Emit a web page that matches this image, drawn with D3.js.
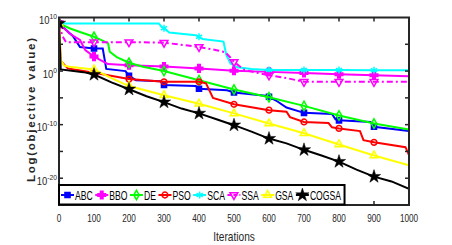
<!DOCTYPE html>
<html>
<head>
<meta charset="utf-8">
<script src="https://cdn.jsdelivr.net/npm/d3@7"></script>
<style>
  body { margin: 0; background: #fff; }
  text { font-family: "Liberation Sans", Arial, sans-serif; }
</style>
</head>
<body>
<div id="chart"></div>
<script>
// ***** data (log10 of objective value) *****
var abcIter = [0, 40, 60, 100, 125, 135, 190, 200, 220, 290, 300, 390, 400, 480, 500, 590, 600, 620, 650, 700, 780, 790, 800, 890, 900, 1000];
var abcLog  = [8.9, 6.5, 4.5, 4.2, 4.2, 0.4, 0.0, -0.9, -1.7, -1.9, -2.6, -2.8, -3.3, -3.6, -4.0, -4.6, -4.8, -5.5, -6.8, -7.8, -8.0, -9.0, -9.2, -9.5, -10.4, -11.2];

var bboIter = [0, 30, 60, 75, 100, 120, 140, 200, 300, 400, 500, 600, 700, 800, 900, 1000];
var bboLog  = [8.9, 7.0, 5.8, 3.9, 2.7, 2.0, 1.3, 1.1, 0.85, 0.5, 0.05, -0.15, -0.35, -0.6, -0.8, -0.95];

var deIter = [0, 30, 60, 100, 140, 145, 165, 200, 240, 300, 400, 500, 600, 700, 800, 900, 1000];
var deLog  = [8.9, 8.0, 7.3, 6.4, 5.2, 3.6, 2.6, 1.55, 0.8, 0.0, -1.7, -3.45, -4.9, -6.5, -8.3, -9.8, -10.9];

var psoIter = [0, 5, 25, 100, 200, 300, 400, 420, 440, 500, 600, 650, 660, 700, 770, 780, 800, 860, 870, 900, 990, 1000];
var psoLog  = [8.9, 1.9, 0.5, -0.3, -1.5, -2.0, -2.0, -2.3, -5.0, -6.2, -7.3, -7.6, -8.6, -9.5, -9.7, -10.5, -10.7, -11.2, -12.9, -13.3, -14.2, -15.7];

var scaIter = [0, 285, 295, 300, 315, 390, 400, 410, 470, 478, 490, 510, 550, 600, 700, 800, 900, 1000];
var scaLog  = [8.9, 8.9, 8.1, 8.0, 7.2, 6.7, 6.4, 6.0, 5.5, 3.0, 1.4, 0.7, 0.4, 0.2, 0.2, 0.2, 0.15, 0.15];

var ssaIter = [0, 10, 20, 100, 200, 300, 400, 450, 475, 490, 500, 530, 600, 650, 700, 800, 900, 1000];
var ssaLog  = [8.9, 6.5, 5.4, 5.4, 5.4, 5.3, 4.5, 3.9, 3.5, 2.5, 1.7, 0.2, -0.8, -1.3, -2.0, -2.0, -2.0, -2.0];

var gsaIter = [0, 5, 15, 30, 100, 150, 200, 300, 400, 500, 600, 700, 800, 900, 1000];
var gsaLog  = [8.9, 2.0, 1.0, 0.8, 0.3, -1.3, -2.8, -4.5, -6.1, -7.9, -9.8, -11.6, -13.7, -15.75, -17.6];

var cogsaIter = [0, 5, 70, 100, 150, 200, 250, 300, 350, 400, 450, 500, 550, 600, 650, 700, 750, 800, 850, 900, 950, 1000];
var cogsaLog  = [8.9, 0.3, -0.2, -0.65, -2.1, -3.4, -4.7, -5.8, -7.0, -7.9, -9.0, -10.1, -11.3, -12.6, -13.5, -14.7, -15.75, -16.9, -18.4, -19.7, -20.6, -22.0];

var xTicks = [0, 100, 200, 300, 400, 500, 600, 700, 800, 900, 1000];
var yLabelExps = [10, 0, -10, -20];

// series table built from the arrays above
var series = [
  {name: "ABC",   iter: abcIter,   lg: abcLog,   color: "#0000ff", marker: "square"},
  {name: "BBO",   iter: bboIter,   lg: bboLog,   color: "#ff00ff", marker: "plus"},
  {name: "DE",    iter: deIter,    lg: deLog,    color: "#00ff00", marker: "diamond"},
  {name: "PSO",   iter: psoIter,   lg: psoLog,   color: "#ff0000", marker: "circle"},
  {name: "SCA",   iter: scaIter,   lg: scaLog,   color: "#00ffff", marker: "asterisk"},
  {name: "SSA",   iter: ssaIter,   lg: ssaLog,   color: "#ff00ff", marker: "tridown", dash: "6,3,2,3"},
  {name: "GSA",   iter: gsaIter,   lg: gsaLog,   color: "#ffff00", marker: "triup"},
  {name: "COGSA", iter: cogsaIter, lg: cogsaLog, color: "#000000", marker: "star"}
];

// set the dimensions of the plot box
var W = 452, H = 245;
var pLeft = 59, pRight = 409, pTop = 17.5, pBottom = 205;
var squeeze = 0.78;  // the figure's text is horizontally narrow

var svg = d3.select("#chart")
  .append("svg")
    .attr("width", W)
    .attr("height", H);

var x = d3.scaleLinear().domain([0, 1000]).range([pLeft, pRight]);
var y = d3.scaleLog().domain([1e-25, 1e10]).range([pBottom, pTop]);

svg.append("defs").append("clipPath").attr("id", "clip")
  .append("rect")
    .attr("x", pLeft).attr("y", pTop)
    .attr("width", pRight - pLeft).attr("height", pBottom - pTop);

var line = d3.line()
  .x(function(d) { return x(d[0]); })
  .y(function(d) { return y(Math.pow(10, d[1])); });

function symbolPath(kind, size) {
  var map = {
    square: d3.symbolSquare, plus: d3.symbolCross, diamond: d3.symbolDiamond,
    circle: d3.symbolCircle, asterisk: d3.symbolAsterisk, triup: d3.symbolTriangle,
    tridown: d3.symbolTriangle, star: d3.symbolStar
  };
  return d3.symbol().type(map[kind]).size(size)();
}
function markerSize(kind) {
  if (kind == "star") return 55;
  if (kind == "asterisk") return 35;
  if (kind == "plus") return 32;
  return 26;
}
function styleMarker(sel, s) {
  var filled = (s.marker == "star" || s.marker == "plus" || s.marker == "square");
  sel.attr("d", symbolPath(s.marker, markerSize(s.marker)))
    .attr("fill", filled ? s.color : "none")
    .attr("stroke", s.color)
    .attr("stroke-width", s.marker == "star" ? 0.5 : 1.5);
}

var plot = svg.append("g").attr("clip-path", "url(#clip)");

series.forEach(function(s) {
  var pts = s.iter.map(function(it, i) { return [it, s.lg[i]]; });
  plot.append("path")
    .datum(pts)
    .attr("d", line)
    .attr("fill", "none")
    .attr("stroke", s.color)
    .attr("stroke-width", 2)
    .attr("stroke-dasharray", s.dash || null);

  // markers every 100 iterations
  var mk = pts.filter(function(d) { return d[0] % 100 == 0 && d[0] < 1000; });
  plot.selectAll("mk" + s.name)
    .data(mk)
    .enter()
    .append("path")
      .call(styleMarker, s)
      .attr("transform", function(d) {
        return "translate(" + x(d[0]) + "," + y(Math.pow(10, d[1])) + ")" + (s.marker == "tridown" ? " rotate(180)" : "");
      });
});

// frame and ticks
var frame = "#262626";
svg.append("rect")
  .attr("x", pLeft).attr("y", pTop)
  .attr("width", pRight - pLeft).attr("height", pBottom - pTop)
  .attr("fill", "none").attr("stroke", frame).attr("stroke-width", 2);

xTicks.slice(1, -1).forEach(function(t) {
  svg.append("line").attr("x1", x(t)).attr("x2", x(t)).attr("y1", pTop).attr("y2", pTop + 4)
    .attr("stroke", frame).attr("stroke-width", 1.5);
  svg.append("line").attr("x1", x(t)).attr("x2", x(t)).attr("y1", pBottom).attr("y2", pBottom - 4)
    .attr("stroke", frame).attr("stroke-width", 1.5);
});
for (var e = -20; e <= 5; e += 5) {
  svg.append("line").attr("x1", pLeft).attr("x2", pLeft + 4).attr("y1", y(Math.pow(10, e))).attr("y2", y(Math.pow(10, e)))
    .attr("stroke", frame).attr("stroke-width", 1.5);
  svg.append("line").attr("x1", pRight).attr("x2", pRight - 4).attr("y1", y(Math.pow(10, e))).attr("y2", y(Math.pow(10, e)))
    .attr("stroke", frame).attr("stroke-width", 1.5);
}

// x tick labels
svg.selectAll("xlab")
  .data(xTicks)
  .enter()
  .append("text")
    .attr("transform", function(d) { return "translate(" + x(d) + ",222) scale(" + squeeze + ",1)"; })
    .attr("text-anchor", "middle")
    .attr("font-size", 10.5)
    .attr("fill", "#262626")
    .text(function(d) { return d; });

// y tick labels 10^n
yLabelExps.forEach(function(n) {
  var t = svg.append("text")
    .attr("transform", "translate(57," + (y(Math.pow(10, n)) + 6.5) + ") scale(0.9,1)")
    .attr("text-anchor", "end")
    .attr("font-size", 10.5)
    .attr("fill", "#262626");
  t.append("tspan").text("10");
  t.append("tspan").attr("dy", -5).attr("font-size", 7.5).text(n);
});

// axis titles
svg.append("text")
  .attr("transform", "translate(234,241) scale(" + squeeze + ",1)")
  .attr("text-anchor", "middle")
  .attr("font-size", 13)
  .attr("fill", "#262626")
  .text("Iterations");

svg.append("text")
  .attr("transform", "translate(35,110) rotate(-90)")
  .attr("text-anchor", "middle")
  .attr("font-size", 11.5)
  .attr("font-weight", "bold")
  .attr("fill", "#262626")
  .attr("textLength", 144)
  .text("Log(objective value)");

// legend (single row inside bottom of the box)
var lg = svg.append("g");
var box = lg.append("rect")
  .attr("x", pLeft).attr("y", 185)
  .attr("height", 19.5)
  .attr("fill", "#fff")
  .attr("stroke", "#000").attr("stroke-width", 2);
var cursor = 61, ly = 195;
series.forEach(function(s) {
  lg.append("line")
    .attr("x1", cursor).attr("x2", cursor + 13)
    .attr("y1", ly).attr("y2", ly)
    .attr("stroke", s.color).attr("stroke-width", 2)
    .attr("stroke-dasharray", s.dash ? "4,2" : null);
  lg.append("path")
    .call(styleMarker, s)
    .attr("transform", "translate(" + (cursor + 6.5) + "," + ly + ")" + (s.marker == "tridown" ? " rotate(180)" : ""));
  var t = lg.append("text")
    .attr("transform", "translate(" + (cursor + 14) + "," + (ly + 4.5) + ") scale(0.72,1)")
    .attr("font-size", 12)
    .attr("fill", "#000")
    .text(s.name);
  cursor += 14 + t.node().getComputedTextLength() * 0.72 + 2.5;
});
box.attr("width", cursor + 1 - pLeft);
</script>
</body>
</html>
